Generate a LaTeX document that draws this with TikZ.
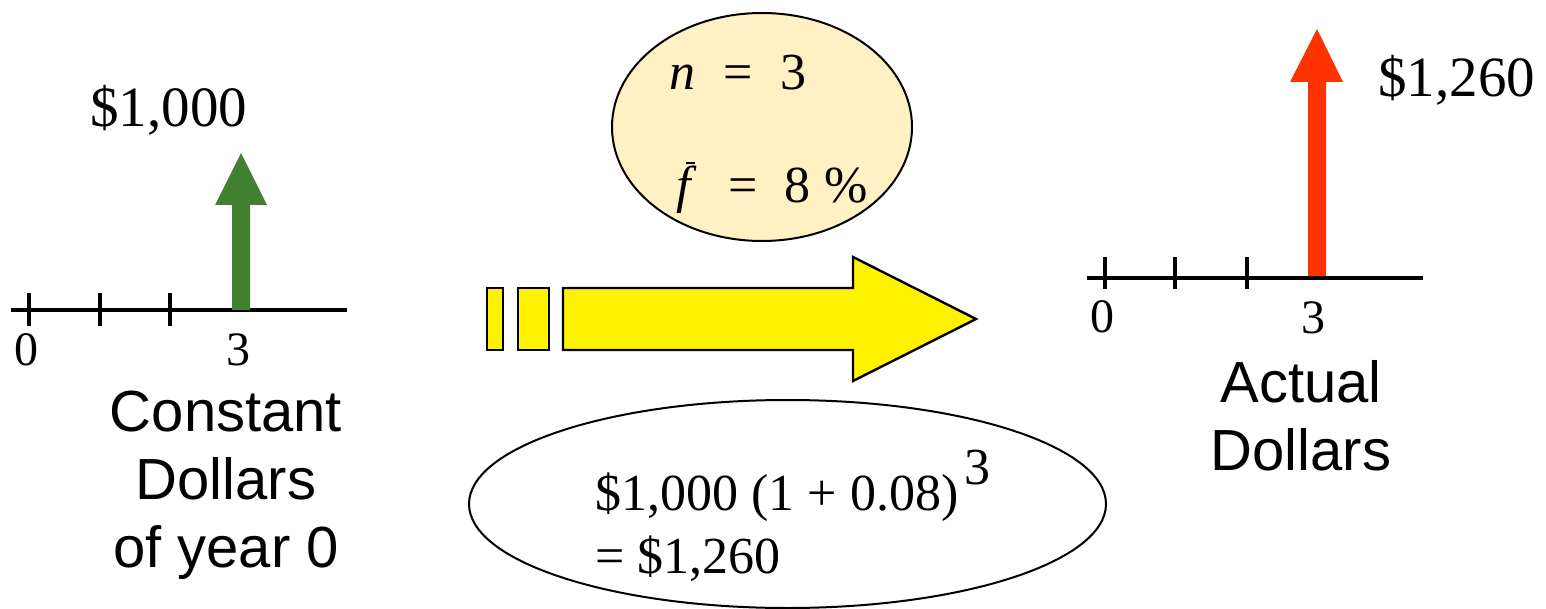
\documentclass[tikz,border=0pt]{standalone}
\usepackage{fontspec}
\setmainfont{Liberation Serif}
\setsansfont{Liberation Sans}
\usepackage{xcolor}
\usepackage{tikz}
\usetikzlibrary{shapes.geometric, positioning, calc}
\definecolor{cashgreen}{RGB}{64,128,48}
\definecolor{cashred}{RGB}{255,51,0}
\definecolor{paleyellow}{RGB}{255,241,196}
\tikzset{
    axisline/.style={line width=1.7pt, black},
    tickmark/.style={line width=2pt, black},
    ticklabel/.style={font=\fontsize{24}{28}\selectfont, inner sep=0pt, anchor=base},
    amount/.style={font=\fontsize{28.5}{34}\selectfont, inner sep=0pt, anchor=base west},
    formula/.style={font=\fontsize{26}{31}\selectfont, inner sep=0pt, anchor=base west},
    caption/.style={font=\sffamily\fontsize{29}{34}\selectfont, align=center, inner sep=0pt, anchor=base},
    bubble/.style={ellipse, draw=black, line width=1pt, inner sep=0pt},
    flowbox/.style={fill=yellow, draw=black, line width=1.2pt}
}

\begin{document}
\begin{tikzpicture}[x=0.5pt, y=-0.5pt]
\useasboundingbox (0,0) rectangle (1546,609);
% constant dollars, year 0
\draw[axisline] (11,310) -- (347,310);
\foreach \x in {29,100,170}
    \draw[tickmark] (\x,293) -- (\x,326);
\fill[cashgreen] (232,310) -- (232,205) -- (215,205) -- (241,153) -- (267,205) -- (250,205) -- (250,310) -- cycle;
\node[amount] (pv) at (90,127) {\$1,000};
\node[ticklabel] (pzero) at (26,365) {0};
\node[ticklabel] (pthree) at (238,365) {3};
\node[caption] (pvcap) at (226,567) {Constant\\Dollars\\of year 0};
% parameters
\node[bubble, fill=paleyellow, minimum width=150pt, minimum height=114pt] (params) at (762,127) {};
\node[formula] (nline) at (669,90) {\textit{n}\hspace{14pt}=\hspace{14pt}3};
\node[formula] (fline) at (676,203) {\makebox[0pt][l]{\hspace{5pt}\rule[19.5pt]{4.5pt}{1pt}}\textit{f}\hspace{16pt}=\hspace{13pt}8\hspace{7pt}\%};
% conversion
\fill[flowbox] (487,288) rectangle (503,350);
\fill[flowbox] (518,288) rectangle (549,350);
\filldraw[flowbox] (563,288) -- (853,288) -- (853,257) -- (976,319) -- (853,381) -- (853,350) -- (563,350) -- cycle;
\node[bubble, minimum width=318.5pt, minimum height=104pt] (calc) at (787.5,504) {};
\node[formula] (calcline1) at (595,510) {\$1,000 (1 + 0.08)\hspace{3pt}\raisebox{13pt}{3}};
\node[formula] (calcline2) at (595,573) {= \$1,260};
% actual dollars
\draw[axisline] (1087,278) -- (1423,278);
\foreach \x in {1105,1175,1247}
    \draw[tickmark] (\x,257) -- (\x,289);
\fill[cashred] (1308,276) -- (1308,82) -- (1290,82) -- (1317,29) -- (1343,82) -- (1326,82) -- (1326,276) -- cycle;
\node[amount] (fv) at (1378,97) {\$1,260};
\node[ticklabel] (fzero) at (1102,332) {0};
\node[ticklabel] (fthree) at (1313,333) {3};
\node[caption] (fvcap) at (1301,470) {Actual\\Dollars};
\end{tikzpicture}
\end{document}
